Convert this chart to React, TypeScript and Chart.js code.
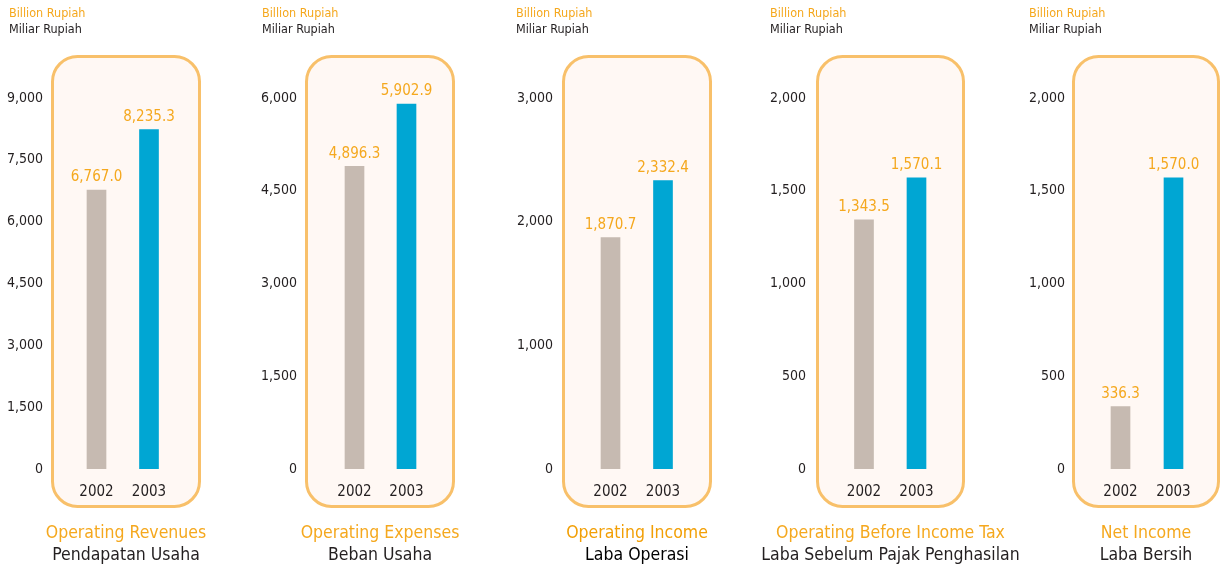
import React, { useEffect, useRef } from "react";
import { Chart, registerables } from "chart.js";

Chart.register(...registerables);

const categories = ["2002", "2003"];
const operatingRevenues = [6767.0, 8235.3];
const operatingExpenses = [4896.3, 5902.9];
const operatingIncome = [1870.7, 2332.4];
const beforeIncomeTax = [1343.5, 1570.1];
const netIncome = [336.3, 1570.0];

const titlesEn = ["Operating Revenues", "Operating Expenses", "Operating Income", "Operating Before Income Tax", "Net Income"];
const titlesId = ["Pendapatan Usaha", "Beban Usaha", "Laba Operasi", "Laba Sebelum Pajak Penghasilan", "Laba Bersih"];
const unitEn = "Billion Rupiah";
const unitId = "Miliar Rupiah";
const axisMax = [9000, 6000, 3000, 2000, 2000];
const axisStep = [1500, 1500, 1000, 500, 500];

const seriesList = [operatingRevenues, operatingExpenses, operatingIncome, beforeIncomeTax, netIncome];

// layout (page pixel geometry)
const layout = [
  { unitX: 9, rectL: 51, rectR: 201, c1: 96.5, c2: 149, tickR: 43 },
  { unitX: 262, rectL: 305, rectR: 455, c1: 354.5, c2: 406.5, tickR: 297 },
  { unitX: 516, rectL: 562, rectR: 712, c1: 610.5, c2: 663, tickR: 553 },
  { unitX: 770, rectL: 816, rectR: 965, c1: 864, c2: 916.5, tickR: 806 },
  { unitX: 1029, rectL: 1072, rectR: 1220, c1: 1120.5, c2: 1173.5, tickR: 1065 },
];

const FONT = "'DejaVu Sans Condensed', 'Liberation Sans Narrow', Roboto, sans-serif";
const ORANGE = "#F5A81E";
const BORDER = "#F8C06A";
const FILL = "#FFF8F4";
const GRAY = "#C6BAB1";
const BLUE = "#00A6D3";
const TEXT = "#231F20";

const PAGE_H = 569;
const CHART_TOP = 98;
const CHART_BOTTOM = 469;
const RECT_TOP = 55;
const RECT_BOTTOM = 508;

function Panel({ idx }: { idx: number }) {
  const ref = useRef<HTMLCanvasElement>(null);
  const g = layout[idx];
  const half = (g.c2 - g.c1) / 2;
  const chartL = g.c1 - half;
  const chartR = g.c2 + half;
  const canvasL = g.rectL - 70;
  const canvasW = g.rectR + 6 - canvasL;
  const yAxisW = chartL - canvasL;
  const rightPad = canvasW - (chartR - canvasL);

  useEffect(() => {
    if (!ref.current) return;
    const data = seriesList[idx];
    const bgPlugin = {
      id: "roundedBg",
      beforeDraw(chart: any) {
        const ctx = chart.ctx;
        const x = g.rectL - canvasL + 1.5;
        const w = g.rectR - g.rectL - 3;
        const y = RECT_TOP + 1.5;
        const h = RECT_BOTTOM - RECT_TOP - 3;
        ctx.save();
        ctx.beginPath();
        ctx.roundRect(x, y, w, h, 25);
        ctx.fillStyle = FILL;
        ctx.fill();
        ctx.lineWidth = 3;
        ctx.strokeStyle = BORDER;
        ctx.stroke();
        ctx.restore();
      },
      afterDatasetsDraw(chart: any) {
        const ctx = chart.ctx;
        const meta = chart.getDatasetMeta(0);
        ctx.save();
        ctx.font = `15px ${FONT}`;
        ctx.fillStyle = ORANGE;
        ctx.textAlign = "center";
        ctx.textBaseline = "bottom";
        meta.data.forEach((bar: any, i: number) => {
          const v = data[i];
          const s = v.toLocaleString("en-US", { minimumFractionDigits: 1, maximumFractionDigits: 1 });
          ctx.fillText(s, bar.x, bar.y - 5);
        });
        ctx.restore();
      },
    };
    const chart = new Chart(ref.current, {
      type: "bar",
      data: {
        labels: categories,
        datasets: [
          {
            data: data,
            backgroundColor: [GRAY, BLUE],
            barThickness: 19,
            borderWidth: 0,
          },
        ],
      },
      options: {
        animation: false,
        responsive: false,
        devicePixelRatio: 1,
        layout: { padding: { top: CHART_TOP, bottom: PAGE_H - CHART_BOTTOM - 30, left: 0, right: rightPad } },
        plugins: { legend: { display: false }, tooltip: { enabled: false }, title: { display: false } },
        scales: {
          x: {
            offset: true,
            grid: { display: false, drawTicks: false },
            border: { display: false },
            ticks: { color: TEXT, font: { family: FONT, size: 15 }, padding: 14 },
            afterFit: (s: any) => {
              s.height = 30;
            },
          },
          y: {
            min: 0,
            max: axisMax[idx],
            grid: { display: false, drawTicks: false },
            border: { display: false },
            ticks: {
              stepSize: axisStep[idx],
              color: TEXT,
              font: { family: FONT, size: 14 },
              padding: chartL - g.tickR,
              callback: (v: any) => Number(v).toLocaleString("en-US"),
            },
            afterFit: (s: any) => {
              s.width = yAxisW;
            },
          },
        },
      },
      plugins: [bgPlugin],
    });
    return () => chart.destroy();
  }, [idx]);

  const cx = (g.rectL + g.rectR) / 2;
  const titleColor = idx === 2 ? "#F29F05" : ORANGE;
  return (
    <>
      <canvas
        ref={ref}
        width={canvasW}
        height={PAGE_H}
        style={{ position: "absolute", left: canvasL, top: 0, width: canvasW, height: PAGE_H }}
      />
      <div style={{ position: "absolute", left: g.unitX, top: 5, fontSize: 12.5, color: ORANGE, whiteSpace: "nowrap", lineHeight: "16px" }}>
        {unitEn}
      </div>
      <div style={{ position: "absolute", left: g.unitX, top: 21, fontSize: 12.5, color: TEXT, whiteSpace: "nowrap", lineHeight: "16px" }}>
        {unitId}
      </div>
      <div
        style={{
          position: "absolute",
          left: cx - 200,
          width: 400,
          top: 520,
          textAlign: "center",
          fontSize: 17.5,
          lineHeight: "24px",
          color: titleColor,
          whiteSpace: "nowrap",
        }}
      >
        {titlesEn[idx]}
      </div>
      <div
        style={{
          position: "absolute",
          left: cx - 200,
          width: 400,
          top: 542,
          textAlign: "center",
          fontSize: 17.5,
          lineHeight: "24px",
          color: idx === 2 ? "#000" : TEXT,
          whiteSpace: "nowrap",
        }}
      >
        {titlesId[idx]}
      </div>
    </>
  );
}

export default function App() {
  return (
    <div
      style={{
        position: "absolute",
        left: 0,
        top: 0,
        width: 1221,
        height: PAGE_H,
        background: "#fff",
        fontFamily: FONT,
        overflow: "hidden",
      }}
    >
      {layout.map((_, i) => (
        <Panel key={i} idx={i} />
      ))}
    </div>
  );
}
